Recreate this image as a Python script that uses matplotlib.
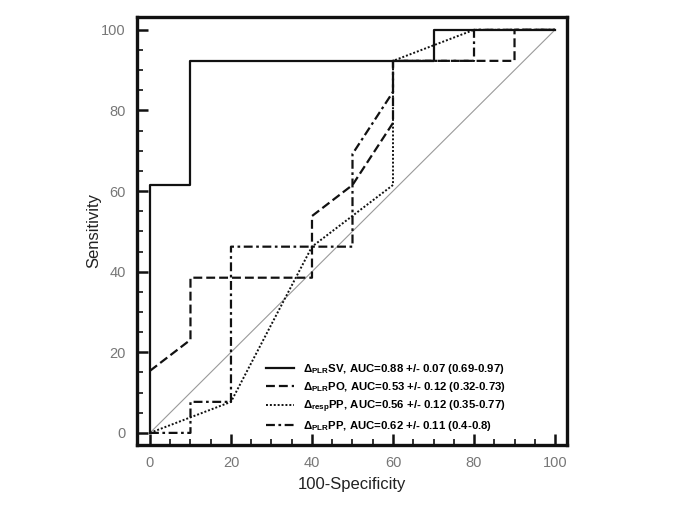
import numpy as np
import matplotlib.pyplot as plt
from matplotlib.ticker import MultipleLocator

plt.rcParams['font.family'] = ['Liberation Sans', 'DejaVu Sans']
plt.rcParams['mathtext.fontset'] = 'custom'
plt.rcParams['mathtext.rm'] = 'Liberation Sans:bold'
plt.rcParams['mathtext.bf'] = 'Liberation Sans:bold'

# ROC curves (100-specificity, sensitivity)
sv_x = [0, 0, 10, 10, 70, 70, 100]
sv_y = [0, 61.5, 61.5, 92.3, 92.3, 100, 100]

po_x = [0, 10, 10, 40, 40, 50, 60, 60, 90, 90, 100]
po_y = [15.4, 23.1, 38.5, 38.5, 53.8, 61.5, 76.9, 92.3, 92.3, 100, 100]

resp_x = [0, 20, 40, 60, 60, 80, 100]
resp_y = [0, 7.7, 46.2, 61.5, 92.3, 100, 100]

pp_x = [0, 10, 10, 20, 20, 50, 50, 60, 60, 80, 80, 100]
pp_y = [0, 0, 7.7, 7.7, 46.2, 46.2, 69.2, 84.6, 92.3, 92.3, 100, 100]

labels = [
    r'$\Delta_{\mathrm{PLR}}$SV, AUC=0.88 +/- 0.07 (0.69-0.97)',
    r'$\Delta_{\mathrm{PLR}}$PO, AUC=0.53 +/- 0.12 (0.32-0.73)',
    r'$\Delta_{\mathrm{resp}}$PP, AUC=0.56 +/- 0.12 (0.35-0.77)',
    r'$\Delta_{\mathrm{PLR}}$PP, AUC=0.62 +/- 0.11 (0.4-0.8)',
]

fig = plt.figure(figsize=(6.85, 5.13), dpi=100)
ax = fig.add_axes([0.2, 0.1326, 0.628, 0.8344])

ax.plot([0, 100], [0, 100], color='#9a9a9a', lw=0.8, zorder=1)
ax.plot(sv_x, sv_y, color='#111111', lw=1.6, label=labels[0])
ax.plot(po_x, po_y, color='#111111', lw=1.6, dashes=(4, 1.8), label=labels[1])
ax.plot(resp_x, resp_y, color='#111111', lw=1.4, dashes=(1, 1), label=labels[2])
ax.plot(pp_x, pp_y, color='#111111', lw=1.6, dashes=(4, 1.6, 1.2, 1.6), label=labels[3])

ax.set_xlim(-3.2, 103)
ax.set_ylim(-3, 103.2)
ax.xaxis.set_major_locator(MultipleLocator(20))
ax.xaxis.set_minor_locator(MultipleLocator(5))
ax.yaxis.set_major_locator(MultipleLocator(20))
ax.yaxis.set_minor_locator(MultipleLocator(5))
ax.tick_params(which='both', direction='in', top=False, right=False,
               colors='#111111', labelcolor='#777777', labelsize=10.5)
ax.tick_params(which='major', length=8, width=1.8, pad=8)
ax.tick_params(which='minor', length=4.5, width=1.2)
for s in ax.spines.values():
    s.set_linewidth(2.4)
    s.set_color('#111111')

ax.set_xlabel('100-Specificity', fontsize=12, color='#222222', labelpad=5)
ax.set_ylabel('Sensitivity', fontsize=12, color='#222222', labelpad=0)

leg = ax.legend(loc='lower left', bbox_to_anchor=(0.275, 0.005), frameon=False,
                prop={'weight': 'bold', 'size': 8.2}, handlelength=2.5,
                labelspacing=0.35, handletextpad=0.8)

fig.savefig('out.png', dpi=100)
